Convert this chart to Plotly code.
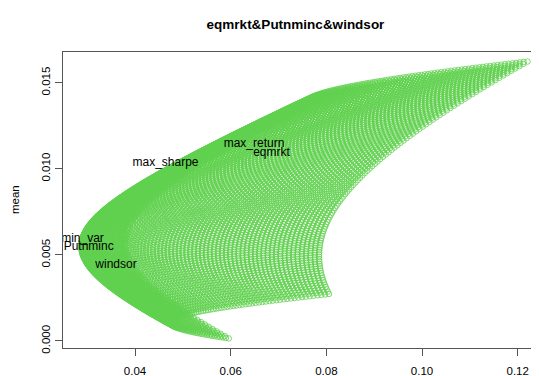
import numpy as np
import plotly.graph_objects as go

# ---- data ----
assets = ["eqmrkt", "Putnminc", "windsor"]
asset_mean = [0.01092, 0.00546, 0.00417]
asset_sd = [0.05316, 0.05654, 0.03086]
asset_corr = [[1.0, 0.3126, 0.2013],
              [0.3126, 1.0, 0.4501],
              [0.2013, 0.4501, 1.0]]
# weight grid for eqmrkt and Putnminc; windsor takes the rest
w_eqmrkt = np.round(np.arange(-0.5, 1.5001, 0.02), 4)
w_putnminc = np.round(np.arange(-0.5, 1.5001, 0.02), 4)

labels = ["max_return", "eqmrkt", "max_sharpe", "min_var", "Putnminc", "windsor"]
label_sd = [0.06488, 0.06853, 0.04638, 0.02903, 0.03032, 0.03603]
label_mean = [0.01144, 0.01092, 0.01035, 0.005906, 0.005441, 0.004413]

x_ticks = [0.04, 0.06, 0.08, 0.10, 0.12]
x_ticktext = ["0.04", "0.06", "0.08", "0.10", "0.12"]
y_ticks = [0.0, 0.005, 0.010, 0.015]
y_ticktext = ["0.000", "0.005", "0.010", "0.015"]

# ---- portfolio cloud ----
mu = np.array(asset_mean)
sd = np.array(asset_sd)
cov = np.array(asset_corr) * np.outer(sd, sd)
WA, WP = np.meshgrid(w_eqmrkt, w_putnminc)
W = np.stack([WA.ravel(), WP.ravel(), 1 - WA.ravel() - WP.ravel()], axis=1)
port_mean = W @ mu
port_sd = np.sqrt(np.einsum('ij,jk,ik->i', W, cov, W))

FONT = "Liberation Sans"
GREEN = "#61D04F"

fig = go.Figure()
fig.add_trace(go.Scatter(
    x=port_sd, y=port_mean, mode='markers', hoverinfo='skip',
    marker=dict(symbol='circle-open', size=5.5, color=GREEN, line=dict(width=0.8, color=GREEN))))
fig.add_trace(go.Scatter(
    x=label_sd, y=label_mean, mode='text', text=labels, textposition='middle center',
    textfont=dict(family=FONT, size=12, color='black'), hoverinfo='skip'))

# the page body adds an 8px offset, so the figure is 8px smaller than the window
OFF = 8
W_FIG, H_FIG = 539 - OFF, 376 - OFF
L, R, T, B = 63 - OFF, 0, 52 - OFF, 28
pw, ph = W_FIG - L - R, H_FIG - T - B

fig.update_layout(
    width=W_FIG, height=H_FIG, margin=dict(l=L, r=R, t=T, b=B, pad=0, autoexpand=False),
    showlegend=False, plot_bgcolor='white', paper_bgcolor='white',
    font=dict(family=FONT, color='black'),
    title=dict(text="<b>eqmrkt&Putnminc&windsor</b>", font=dict(family=FONT, size=13.5, color='black'),
               x=(295.5 - OFF) / W_FIG, xanchor='center', xref='container',
               y=1 - (24 - OFF) / H_FIG, yanchor='middle', yref='container', automargin=False),
    annotations=[dict(text="mean", x=(15 - OFF - L) / pw, y=(H_FIG - B - (200 - OFF)) / ph,
                      xref='paper', yref='paper',
                      showarrow=False, textangle=-90, xanchor='center', yanchor='middle',
                      font=dict(family=FONT, size=11.5, color='black'))])
fig.update_xaxes(
    range=[0.02495, 0.12445], showgrid=False, zeroline=False, showline=True, mirror=True,
    linecolor='#555', linewidth=1, ticks='outside', ticklen=7, tickcolor='#555', automargin=False,
    tickvals=x_ticks, ticktext=x_ticktext, tickfont=dict(family=FONT, size=11.5, color='black'),
    ticklabelstandoff=5)
fig.update_yaxes(
    range=[-0.000407, 0.016783], showgrid=False, zeroline=False, showline=True,
    linecolor='#555', linewidth=1, ticks='outside', ticklen=7, tickcolor='#555', automargin=False,
    tickvals=y_ticks, ticktext=y_ticktext, tickangle=-90,
    tickfont=dict(family=FONT, size=11.5, color='black'), ticklabelstandoff=0)
fig.write_html("out.html")
